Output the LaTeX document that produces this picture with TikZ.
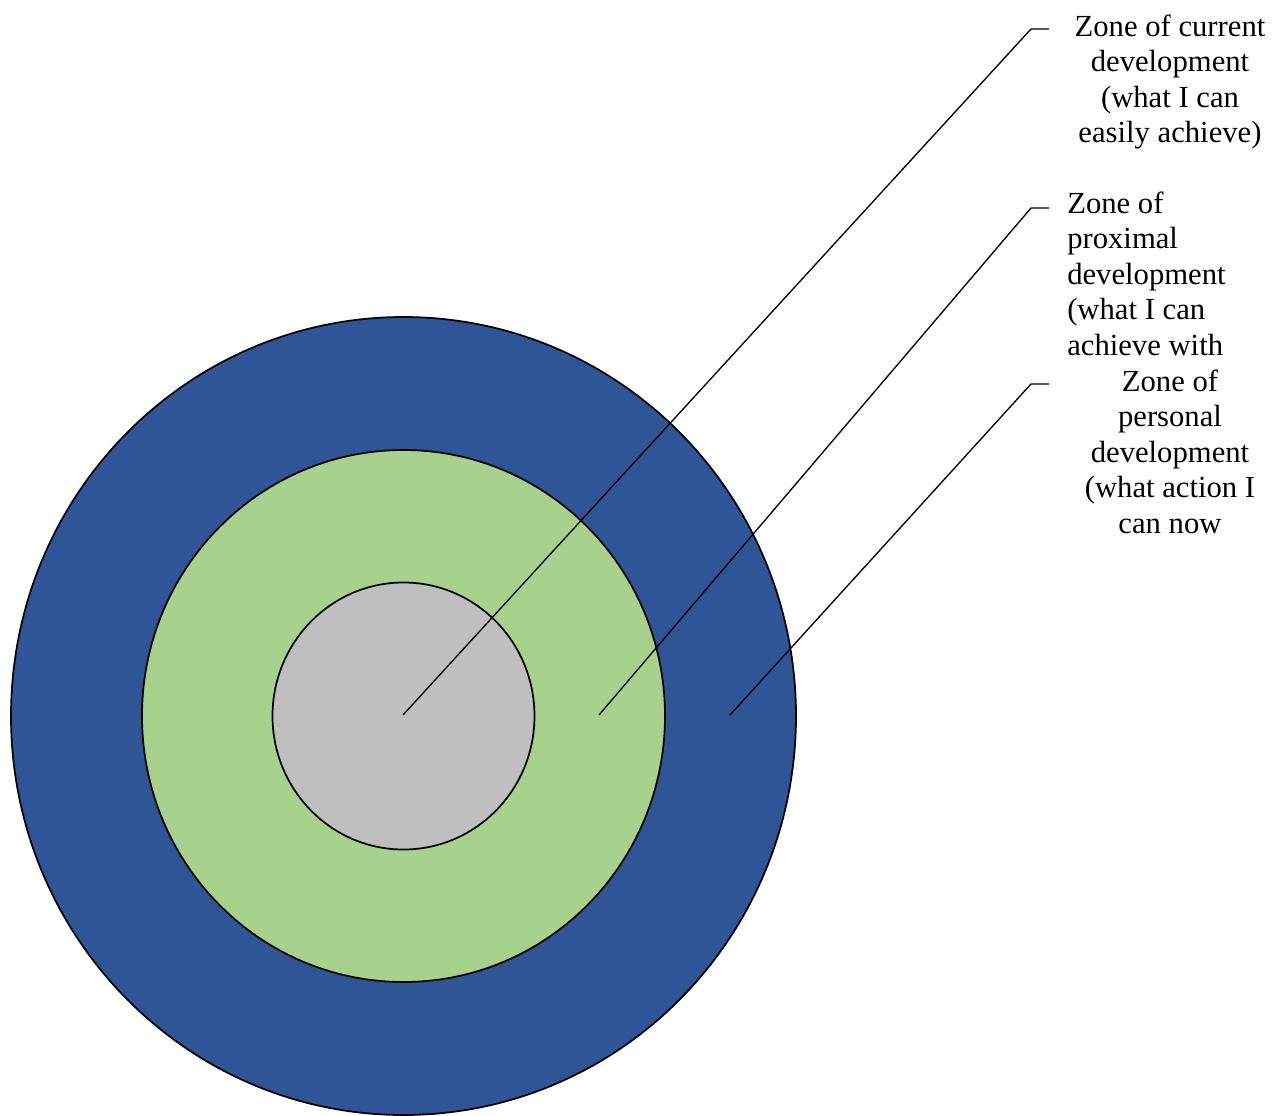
\documentclass[tikz,border=0pt]{standalone}
\usepackage{fontspec}
\setmainfont{Liberation Serif}
\usepackage{tikz}
\usetikzlibrary{positioning}
\definecolor{zoneblue}{HTML}{2F5597}
\definecolor{zonegreen}{HTML}{A9D18E}
\definecolor{zonegrey}{HTML}{BFBFBF}

\begin{document}
\begin{tikzpicture}[
    x=0.75pt, y=-0.75pt,
    zone/.style={draw=black, line width=1.3pt},
    leader/.style={draw=black, line width=1pt},
    label/.style={inner sep=0pt, anchor=base, font=\fontsize{23}{26.6}\selectfont}
]
    \useasboundingbox (0,0) rectangle (1272,1115);

    % the three zones
    \path[zone, fill=zoneblue] (403.5,716) ellipse [x radius=392.5, y radius=399];
    \path[zone, fill=zonegreen] (403.5,716) ellipse [x radius=261.5, y radius=266];
    \path[zone, fill=zonegrey] (403.5,716) ellipse [x radius=131, y radius=133.5];

    % labels (anchored on the baseline of their last line)
    \node[label, align=center] (current) at (1170,142.5) {Zone of current\\development\\(what I can\\easily achieve)};
    \node[label, align=left, anchor=base west] (proximal) at (1067,355) {Zone of\\proximal\\development\\(what I can\\achieve with};
    \node[label, align=center] (personal) at (1170,533) {Zone of\\personal\\development\\(what action I\\can now};

    % leader lines
    \coordinate (p1) at (403,715);
    \coordinate (k1) at (1031,29);
    \coordinate (t1) at (1049,29);
    \coordinate (p2) at (599,715);
    \coordinate (k2) at (1031,208);
    \coordinate (t2) at (1049,208);
    \coordinate (p3) at (730,715);
    \coordinate (k3) at (1031,384);
    \coordinate (t3) at (1049,384);

    \draw[leader] (p1) -- (k1) -- (t1);
    \draw[leader] (p2) -- (k2) -- (t2);
    \draw[leader] (p3) -- (k3) -- (t3);
\end{tikzpicture}
\end{document}
